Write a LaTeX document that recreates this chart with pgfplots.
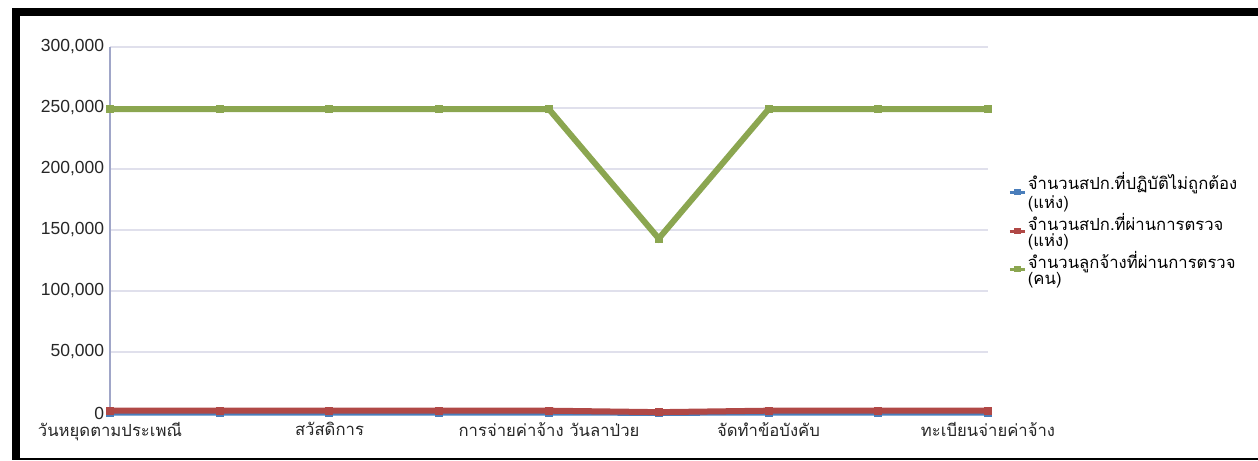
\documentclass[border=0pt]{standalone}
\usepackage{fontspec}
\setmainfont{Liberation Sans}
\newfontfamily\thaifont[Script=Thai]{Loma}
\usepackage{pgfplots}
\pgfplotsset{compat=1.18}

\definecolor{serblue}{RGB}{74,126,187}
\definecolor{serred}{RGB}{176,72,70}
\definecolor{sergreen}{RGB}{139,166,80}
\definecolor{gridcol}{RGB}{224,224,236}
\definecolor{axcol}{RGB}{160,166,200}

\begin{document}
\begin{tikzpicture}
% page = 1258x460 px at 0.6pt per px
\path[use as bounding box] (0pt,0pt) rectangle (754.8pt,276pt);
% screenshot frame
\fill[black] (7.2pt,0pt) rectangle (754.8pt,1.2pt);
\fill[black] (7.2pt,266.4pt) rectangle (754.8pt,271.2pt);
\fill[black] (7.2pt,0pt) rectangle (12pt,271.2pt);

\begin{axis}[
  at={(66pt,28.2pt)}, anchor=south west,
  scale only axis,
  width=526.8pt, height=219.6pt,
  xmin=0, xmax=8,
  ymin=0, ymax=300000,
  ytick distance=50000,
  xtick={0,2,4,6,8},
  xticklabels={
    {\thaifont วันหยุดตามประเพณี},
    {\thaifont สวัสดิการ},
    {\thaifont การจ่ายค่าจ้าง วันลาป่วย},
    {\thaifont จัดทำข้อบังคับ},
    {\thaifont ทะเบียนจ่ายค่าจ้าง}},
  scaled y ticks=false,
  yticklabel style={/pgf/number format/fixed, /pgf/number format/1000 sep={,}, /pgf/number format/assume math mode=true, font=\fontsize{10.5}{12}\selectfont},
  xticklabel style={yshift=-2pt, font=\fontsize{10}{12}\selectfont},
  tick label style={text=black!85},
  major tick length=0pt,
  ymajorgrids,
  grid style={gridcol, line width=0.8pt},
  axis x line*=bottom,
  axis y line*=left,
  x axis line style={draw=none},
  y axis line style={axcol, line width=0.8pt, -},
  clip=false,
  legend cell align=left,
  legend style={draw=none, fill=none, at={(1.017,0.5)}, anchor=west,
    font=\fontsize{10}{10}\selectfont\thaifont, row sep=-1pt,
    nodes={align=left, inner sep=1pt}},
  legend image code/.code={
    \draw[#1, line width=1.8pt] (0pt,0pt) -- (9pt,0pt);
    \draw[#1, mark size=1.7pt, line width=0pt] plot coordinates {(4.5pt,0pt)};
  },
  every axis plot/.append style={line width=3.6pt, mark=square*, mark size=2.1pt, mark options={line width=0pt}},
]
\addplot[color=serblue] coordinates {
  (0,300) (1,300) (2,300) (3,300) (4,300) (5,150) (6,300) (7,300) (8,300)
};
\addlegendentry{จำนวนสปก.ที่ปฏิบัติไม่ถูกต้อง\\(แห่ง)}
\addplot[color=serred] coordinates {
  (0,1900) (1,1900) (2,1900) (3,1900) (4,1900) (5,700) (6,1900) (7,1900) (8,1900)
};
\addlegendentry{จำนวนสปก.ที่ผ่านการตรวจ\\(แห่ง)}
\addplot[color=sergreen] coordinates {
  (0,249000) (1,249000) (2,249000) (3,249000) (4,249000) (5,143000) (6,249000) (7,249000) (8,249000)
};
\addlegendentry{จำนวนลูกจ้างที่ผ่านการตรวจ\\(คน)}
\end{axis}
\end{tikzpicture}
\end{document}
